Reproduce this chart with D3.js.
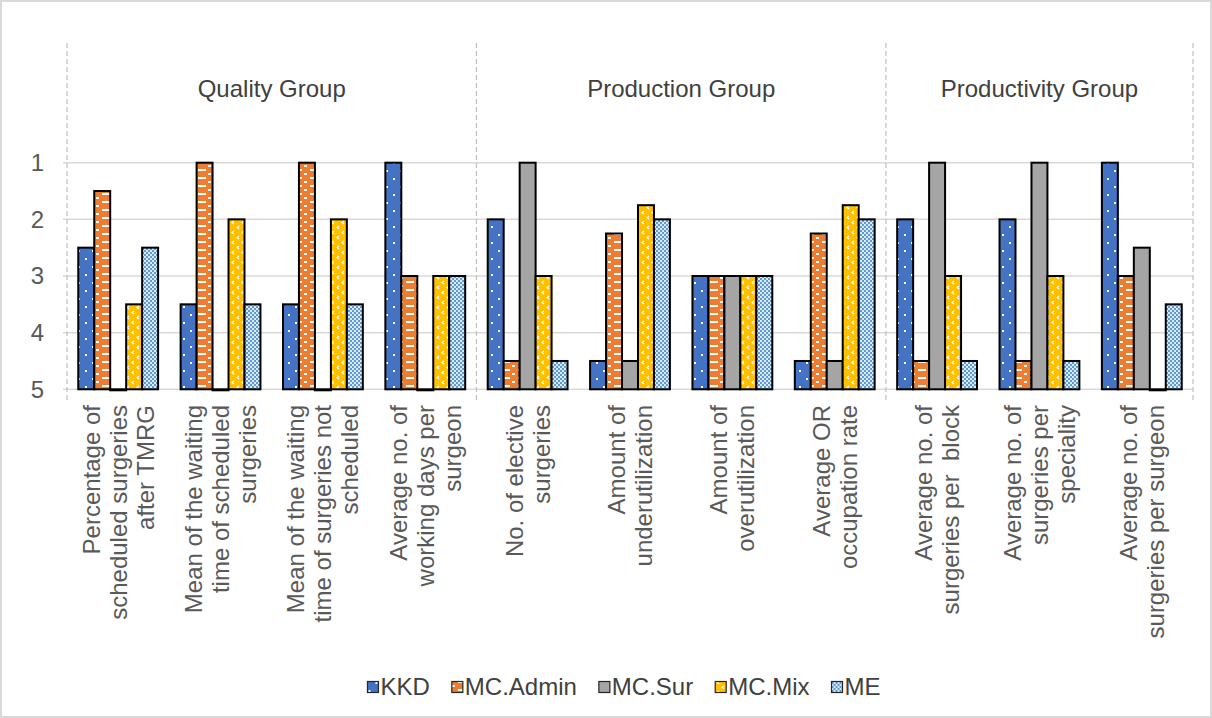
<!DOCTYPE html>
<html>
<head>
<meta charset="utf-8">
<script src="https://cdn.jsdelivr.net/npm/d3@7/dist/d3.min.js"></script>
<style>
  html, body { margin: 0; padding: 0; background: #fff; }
  svg { display: block; }
  text { font-family: "Liberation Sans", Arial, sans-serif; fill: #595959; }
</style>
</head>
<body>
<svg id="chart" width="1212" height="718"></svg>
<script>
// Indicator categories, with their wrapped label lines
const categories = [
  "Percentage of scheduled surgeries after TMRG",
  "Mean of the waiting time of scheduled surgeries",
  "Mean of the waiting time of surgeries not scheduled",
  "Average no. of working days per surgeon",
  "No. of elective surgeries",
  "Amount of underutilization",
  "Amount of overutilization",
  "Average OR occupation rate",
  "Average no. of surgeries per block",
  "Average no. of surgeries per speciality",
  "Average no. of surgeries per surgeon"
];
const categoryLines = [
  ["Percentage of", "scheduled surgeries", "after TMRG"],
  ["Mean of the waiting", "time of scheduled", "surgeries"],
  ["Mean of the waiting", "time of surgeries not", "scheduled"],
  ["Average no. of", "working days per", "surgeon"],
  ["No. of elective", "surgeries"],
  ["Amount of", "underutilization"],
  ["Amount of", "overutilization"],
  ["Average OR", "occupation rate"],
  ["Average no. of", "surgeries per  block"],
  ["Average no. of", "surgeries per", "speciality"],
  ["Average no. of", "surgeries per surgeon"]
];

// Indicator groups: name and number of categories in each
const groupNames = ["Quality Group", "Production Group", "Productivity Group"];
const groupSizes = [4, 4, 3];

// Methods compared (ranks: 1 = best, 5 = worst)
const seriesNames = ["KKD", "MC.Admin", "MC.Sur", "MC.Mix", "ME"];
const KKD      = [2.5, 3.5, 3.5, 1,   2,   4.5,  3, 4.5,  2,   2,   1];
const MCAdmin  = [1.5, 1,   1,   3,   4.5, 2.25, 3, 2.25, 4.5, 4.5, 3];
const MCSur    = [5,   5,   5,   5,   1,   4.5,  3, 4.5,  1,   1,   2.5];
const MCMix    = [3.5, 2,   2,   3,   3,   1.75, 3, 1.75, 3,   3,   5];
const ME       = [2.5, 3.5, 3.5, 3,   4.5, 2,    3, 2,    4.5, 4.5, 3.5];
const seriesValues = [KKD, MCAdmin, MCSur, MCMix, ME];

const rankTicks = [1, 2, 3, 4, 5];

const baseColors = ["#4472C4", "#ED7D31", "#A5A5A5", "#FFC000", "#5B9BD5"];

const svg = d3.select("#chart");
const W = 1212, H = 718;
const FONT = 24;

// chart frame
svg.append("rect").attr("x", 1).attr("y", 1).attr("width", W - 2).attr("height", H - 2)
  .attr("fill", "#fff").attr("stroke", "#d9d9d9").attr("stroke-width", 2);

// ---- fill patterns for each series ----
const defs = svg.append("defs");
function pat(id, w, h, base, draw) {
  const p = defs.append("pattern").attr("id", id)
    .attr("patternUnits", "userSpaceOnUse").attr("width", w).attr("height", h);
  p.append("rect").attr("width", w).attr("height", h).attr("fill", base);
  draw(p);
}
// small dots
pat("p0", 14, 16, baseColors[0], p => {
  p.append("rect").attr("x", 1).attr("y", 2).attr("width", 2).attr("height", 2).attr("fill", "#fff");
  p.append("rect").attr("x", 8).attr("y", 10).attr("width", 2).attr("height", 2).attr("fill", "#fff");
});
// horizontal dashes
pat("p1", 16, 8, baseColors[1], p => {
  p.append("rect").attr("x", 6).attr("y", 1).attr("width", 8).attr("height", 2).attr("fill", "#fff");
  p.append("rect").attr("x", 0).attr("y", 5).attr("width", 3).attr("height", 2).attr("fill", "#fff");
});
// solid
pat("p2", 4, 4, baseColors[2], p => {});
// small chevrons
pat("p3", 10, 10, baseColors[3], p => {
  p.append("path").attr("d", "M4,1 L2,2.5 L4,4").attr("fill", "none")
    .attr("stroke", "#fff").attr("stroke-width", 1.2);
  p.append("path").attr("d", "M9,6 L7,7.5 L9,9").attr("fill", "none")
    .attr("stroke", "#fff").attr("stroke-width", 1.2);
});
// checkerboard
pat("p4", 4, 4, baseColors[4], p => {
  p.append("rect").attr("x", 0).attr("y", 0).attr("width", 2).attr("height", 2).attr("fill", "#fff").attr("opacity", 0.8);
  p.append("rect").attr("x", 2).attr("y", 2).attr("width", 2).attr("height", 2).attr("fill", "#fff").attr("opacity", 0.8);
});

// ---- scales ----
const plotLeft = 67, plotRight = 1193;
const x = d3.scaleBand().domain(categories).range([plotLeft, plotRight])
  .paddingInner(0.22).paddingOuter(0.11);
const xs = d3.scaleBand().domain(seriesNames).range([0, x.bandwidth()]);
const y = d3.scaleLinear().domain([1, 5]).range([162.7, 389.3]);
const step = x.step();
const edge = i => plotLeft + i * step;

// ---- gridlines ----
svg.append("g").selectAll("line").data(rankTicks).join("line")
  .attr("x1", plotLeft - 4).attr("x2", plotRight)
  .attr("y1", d => y(d)).attr("y2", d => y(d))
  .attr("stroke", "#d9d9d9").attr("stroke-width", 1.5);

// ---- group separators (dashed) ----
const bounds = [0];
groupSizes.reduce((acc, n) => { bounds.push(acc + n); return acc + n; }, 0);
svg.append("g").selectAll("line").data(bounds).join("line")
  .attr("x1", d => edge(d)).attr("x2", d => edge(d))
  .attr("y1", 43).attr("y2", 400)
  .attr("stroke", "#bfbfbf").attr("stroke-width", 1.2).attr("stroke-dasharray", "5,3");

// group titles
svg.append("g").selectAll("text").data(groupNames).join("text")
  .attr("x", (d, i) => (edge(bounds[i]) + edge(bounds[i + 1])) / 2)
  .attr("y", 97)
  .attr("text-anchor", "middle")
  .style("font-size", FONT + "px")
  .style("fill", "#404040")
  .text(d => d);

// ---- y tick labels ----
svg.append("g").selectAll("text").data(rankTicks).join("text")
  .attr("x", 44).attr("y", d => y(d))
  .attr("dy", "0.35em")
  .attr("text-anchor", "end")
  .style("font-size", FONT + "px")
  .text(d => d);

// ---- bars ----
const barData = [];
categories.forEach((c, ci) => {
  seriesNames.forEach((s, si) => {
    barData.push({ cat: c, series: s, si, value: seriesValues[si][ci] });
  });
});
svg.append("g").selectAll("rect").data(barData).join("rect")
  .attr("x", d => x(d.cat) + xs(d.series))
  .attr("width", xs.bandwidth())
  .attr("y", d => y(d.value))
  .attr("height", d => Math.max(1, y(5) - y(d.value)))
  .attr("fill", d => `url(#p${d.si})`)
  .attr("stroke", "#000").attr("stroke-width", 2);

// ---- category labels (rotated, wrapped) ----
const lineGap = 27;
const labG = svg.append("g");
categories.forEach((c, ci) => {
  const lines = categoryLines[ci];
  const cx = x(c) + x.bandwidth() / 2;
  lines.forEach((ln, li) => {
    const off = (li - (lines.length - 1) / 2) * lineGap;
    labG.append("text")
      .attr("transform", `translate(${cx + off},405) rotate(-90)`)
      .attr("text-anchor", "end")
      .attr("dy", "0.35em")
      .style("font-size", FONT + "px")
      .style("white-space", "pre")
      .attr("xml:space", "preserve")
      .text(ln);
  });
});

// ---- legend ----
const leg = svg.append("g");
const sw = 11, swGap = 2, itemGap = 22, legY = 687;
const items = seriesNames.map((s, i) => {
  const g = leg.append("g");
  g.append("rect").attr("x", 0).attr("y", legY - sw / 2).attr("width", sw).attr("height", sw)
    .attr("fill", `url(#p${i})`).attr("stroke", "#262626").attr("stroke-width", 1.2);
  const t = g.append("text").attr("x", sw + swGap).attr("y", legY).attr("dy", "0.35em")
    .style("font-size", FONT + "px").style("fill", "#404040").text(s);
  return { g, w: sw + swGap + t.node().getComputedTextLength() };
});
const total = d3.sum(items, d => d.w) + itemGap * (items.length - 1);
let lx = 624 - total / 2;
items.forEach(it => { it.g.attr("transform", `translate(${lx},0)`); lx += it.w + itemGap; });
</script>
</body>
</html>
